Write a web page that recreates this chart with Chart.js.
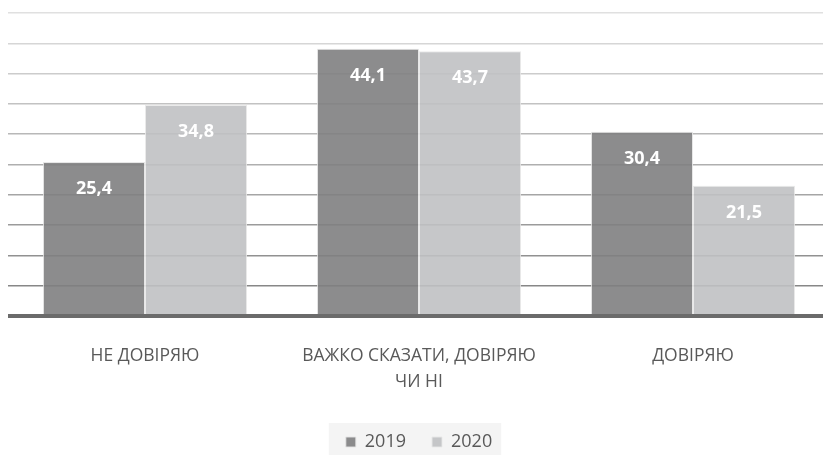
<!DOCTYPE html>
<html>
<head>
<meta charset="utf-8">
<script src="https://cdn.jsdelivr.net/npm/chart.js@4/dist/chart.umd.min.js"></script>
<style>
  html, body { margin: 0; padding: 0; background: #fff; overflow: hidden; }
  #wrap { position: absolute; left: 0; top: 0; width: 846px; height: 455px; }
</style>
</head>
<body>
<div id="wrap"><canvas id="chart"></canvas></div>
<script>
// categories (second one wraps onto two lines)
const categories = [
  "НЕ ДОВІРЯЮ",
  ["ВАЖКО СКАЗАТИ, ДОВІРЯЮ", "ЧИ НІ"],
  "ДОВІРЯЮ"
];
const seriesNames = ["2019", "2020"];
const values2019 = [25.4, 44.1, 30.4];
const values2020 = [34.8, 43.7, 21.5];
const yMax = 50;
const yStep = 5;

const textColor = "#595959";
const fontFamily = "'Open Sans', sans-serif";

// grid lines get darker toward the bottom, baseline is thick
function gridColor(ctx) {
  const v = ctx.tick ? ctx.tick.value : 0;
  if (v === 0) return "#6b6b6b";
  const t = v / yMax;
  const c = Math.round(125 + (224 - 125) * t);
  return `rgb(${c},${c},${c})`;
}
function gridWidth(ctx) {
  return ctx.tick && ctx.tick.value === 0 ? 4 : 1.5;
}

// white value labels inside the top of each bar
const valueLabels = {
  id: "valueLabels",
  afterDatasetsDraw(chart) {
    const ctx = chart.ctx;
    ctx.save();
    ctx.fillStyle = "#ffffff";
    ctx.font = "bold 18px " + fontFamily;
    ctx.textAlign = "center";
    ctx.textBaseline = "middle";
    chart.data.datasets.forEach((ds, i) => {
      chart.getDatasetMeta(i).data.forEach((bar, j) => {
        const txt = ds.data[j].toFixed(1).replace(".", ",");
        ctx.fillText(txt, bar.x, bar.y + 27);
      });
    });
    ctx.restore();
  }
};

// faint box behind the legend
const legendBg = {
  id: "legendBg",
  beforeDraw(chart) {
    const lg = chart.legend;
    if (!lg || !lg.legendHitBoxes || !lg.legendHitBoxes.length) return;
    const boxes = lg.legendHitBoxes;
    const left = boxes[0].left - 17;
    const right = boxes[boxes.length - 1].left + boxes[boxes.length - 1].width + 9;
    const ctx = chart.ctx;
    ctx.save();
    ctx.fillStyle = "#f4f4f4";
    ctx.fillRect(left, boxes[0].top - 10, right - left, 455 - boxes[0].top + 10);
    ctx.restore();
  }
};

new Chart(document.getElementById("chart"), {
  type: "bar",
  data: {
    labels: categories,
    datasets: [
      {
        label: seriesNames[0],
        data: values2019,
        backgroundColor: "rgba(127,127,129,0.9)",
        borderColor: "rgba(228,228,228,0.9)",
        borderWidth: 1
      },
      {
        label: seriesNames[1],
        data: values2020,
        backgroundColor: "rgba(192,193,195,0.9)",
        borderColor: "rgba(232,232,232,0.9)",
        borderWidth: 1
      }
    ]
  },
  options: {
    responsive: true,
    maintainAspectRatio: false,
    animation: false,
    categoryPercentage: 0.745,
    barPercentage: 1,
    layout: { padding: { top: 13, left: 8, right: 16, bottom: -6 } },
    plugins: {
      tooltip: { enabled: false },
      legend: {
        position: "bottom",
        labels: {
          color: textColor,
          font: { family: fontFamily, size: 18 },
          boxWidth: 10,
          boxHeight: 10,
          padding: 26
        }
      }
    },
    scales: {
      x: {
        grid: { display: false, drawTicks: false },
        border: { display: false },
        ticks: {
          color: textColor,
          font: { family: fontFamily, size: 17.5, lineHeight: 1.5 },
          padding: 27,
          maxRotation: 0,
          autoSkip: false
        },
        afterFit(scale) { scale.height = 91; }
      },
      y: {
        min: 0,
        max: yMax,
        ticks: { display: false, stepSize: yStep },
        border: { display: false },
        grid: { color: gridColor, lineWidth: gridWidth, drawTicks: false }
      }
    }
  },
  plugins: [legendBg, valueLabels]
});
</script>
</body>
</html>
